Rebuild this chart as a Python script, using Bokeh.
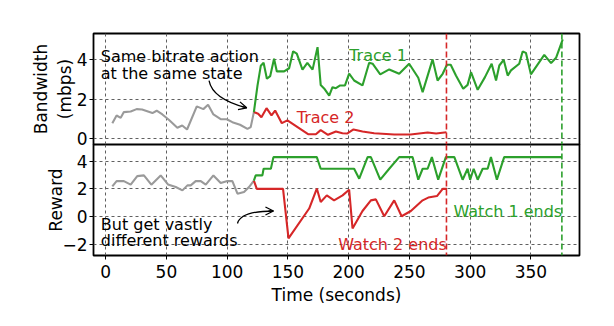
from bokeh.plotting import figure
from bokeh.layouts import column
from bokeh.models import Span, Arrow, OpenHead, FixedTicker
from bokeh.core.properties import value
from bokeh.embed import file_html
from bokeh.resources import INLINE

# ---------------- data ----------------
# shared history (grey) – bandwidth
grey_bw_t = [5.5, 9, 12.4, 15, 20.6, 25.5, 30, 38.5, 42, 46.7, 52, 59, 63, 67, 75, 80.4, 84.3, 88.7, 94.7, 99.7, 104.3, 110.6, 116.7, 119.4, 122]
grey_bw_v = [0.79, 1.18, 1.06, 1.35, 1.38, 1.5, 1.48, 1.3, 1.42, 1.23, 0.96, 0.56, 0.67, 0.47, 1.64, 1.5, 1.72, 1.23, 0.99, 0.99, 0.84, 0.71, 0.5, 0.59, 1.35]

trace1_bw_t = [122, 125, 127.7, 130, 132.7, 135.4, 138.6, 140.9, 146.9, 151, 154.3, 157.3, 162, 166, 170.3, 174.4, 177, 179.8, 184, 186.7, 189.5, 193, 197, 200.4, 204.5, 211.4, 216.9, 219.7, 226, 233.4, 241.6, 249.8, 257.3, 260.9, 269.1, 273.2, 277.4, 280.9, 284, 288.3, 294.3, 297.9, 300.7, 306.2, 312.2, 317.7, 321.3, 324, 327.6, 330.9, 333.6, 340.4, 343.2, 345.9, 350, 361, 366.6, 370.7, 376.2]
trace1_bw_v = [1.35, 2.7, 3.7, 3.85, 3.04, 3.17, 4.05, 3.41, 3.41, 3.57, 4.43, 4.31, 3.5, 3.84, 3.5, 4.64, 2.72, 2.55, 2.19, 2.61, 2.56, 2.7, 2.7, 3.3, 2.95, 2.7, 3.85, 3.8, 3.26, 3.51, 3.29, 3.8, 3.09, 2.36, 4.02, 2.95, 3.29, 3.75, 3.75, 3.2, 2.53, 2.73, 3.37, 2.48, 3.12, 3.8, 2.95, 3.71, 4.0, 3.2, 3.46, 3.8, 4.42, 4.35, 3.26, 4.25, 3.83, 4.1, 5.03]

trace2_bw_t = [122, 125.5, 128.2, 132.4, 136.5, 139.5, 145, 149.6, 166.6, 173, 177, 183, 189.5, 194.9, 199, 204, 211.4, 221, 237.5, 251, 265, 272, 280.5]
trace2_bw_v = [1.35, 1.27, 1.09, 1.55, 1.18, 1.43, 0.79, 0.93, 0.23, 0.23, 0.44, 0.2, 0.37, 0.28, 0.27, 0.47, 0.37, 0.28, 0.22, 0.22, 0.32, 0.27, 0.33]

# rewards
grey_rw_t = [5.5, 9, 15, 20.6, 26, 31.5, 37.6, 45.3, 51.3, 57.7, 63.2, 67.3, 70, 74.1, 78.3, 82.4, 88.7, 94.7, 100.2, 104.3, 108.5, 113.9, 118, 122]
grey_rw_v = [2.18, 2.56, 2.56, 2.3, 2.92, 2.97, 2.3, 2.97, 2.32, 2.13, 1.89, 2.25, 2.25, 2.56, 2.56, 2.3, 2.97, 2.42, 2.56, 2.56, 1.65, 1.77, 2.13, 2.6]

watch1_rw_t = [122, 123.5, 129, 130, 136, 138.1, 173.8, 177, 204.5, 208.7, 215.6, 218.3, 226, 233.4, 241.6, 252.6, 257.3, 260.9, 265, 268.5, 273.7, 280, 287, 293.8, 297.9, 300, 302.9, 306.2, 310.3, 314.4, 317.1, 322, 328, 375.6]
watch1_rw_v = [2.6, 2.97, 2.97, 3.45, 3.45, 4.29, 4.29, 3.45, 3.45, 2.73, 4.29, 4.29, 2.66, 3.45, 4.29, 4.29, 2.66, 3.45, 3.45, 4.29, 2.66, 4.29, 4.29, 2.66, 3.45, 2.66, 3.45, 2.66, 3.45, 3.45, 4.29, 2.66, 4.29, 4.29]

watch2_rw_t = [122, 124.4, 146, 150.5, 167.5, 173.8, 177, 182, 188, 195, 200.4, 203.2, 211.4, 218.3, 222.4, 229.3, 237.5, 243.6, 251.2, 260.9, 265.5, 272.7, 277.4, 281]
watch2_rw_v = [2.6, 2.0, 2.0, -1.58, 0.58, 2.02, 1.05, 1.53, 1.17, 1.53, 1.94, -0.86, 0.4, 1.17, 1.24, 0.02, 1.17, 0.02, 0.4, 1.17, 1.37, 1.48, 2.0, 2.0]

watch2_end = 280.5
watch1_end = 375.5

x_ticks = [0, 50, 100, 150, 200, 250, 300, 350]
bw_ticks = [0, 2, 4]
rw_ticks = [-2, 0, 2, 4]

# ---------------- styles ----------------
GREEN = "#2ca02c"
RED = "#d62728"
GREY = "#9a9a9a"
FONT = "DejaVu Sans"
LW = 2.1
TICK_FS = "17px"
ANN_FS = "16px"

LEFT = 93
RIGHT = 25
W = LEFT + 486 + RIGHT
OVER = 10


def style(p, yticks, label_standoff):
    p.outline_line_color = "black"
    p.outline_line_width = 1.8
    p.xgrid.ticker = FixedTicker(ticks=x_ticks)
    p.ygrid.ticker = FixedTicker(ticks=yticks)
    for g in (p.xgrid, p.ygrid):
        g.grid_line_color = "#606060"
        g.grid_line_dash = "3 3"
        g.grid_line_width = 1
    p.yaxis.ticker = FixedTicker(ticks=yticks)
    p.yaxis.major_label_overrides = {t: (("\u2212" + str(-t)) if t < 0 else str(t)) for t in yticks}
    p.yaxis.minor_tick_line_color = None
    p.yaxis.axis_line_color = None
    p.yaxis.major_tick_out = 4
    p.yaxis.major_tick_in = 0
    p.yaxis.major_tick_line_color = "black"
    p.yaxis.major_label_text_font = FONT
    p.yaxis.major_label_text_font_size = TICK_FS
    p.yaxis.major_label_text_color = "black"
    p.yaxis.major_label_standoff = 2
    p.yaxis.axis_label_text_font = FONT
    p.yaxis.axis_label_text_font_size = TICK_FS
    p.yaxis.axis_label_text_font_style = "normal"
    p.yaxis.axis_label_text_color = "black"
    p.yaxis.axis_label_standoff = label_standoff
    p.background_fill_color = "white"


top = figure(width=W, height=33 + 111 + OVER, x_range=(-10, 390), y_range=(-0.29, 5.33),
             output_backend="svg", toolbar_location=None,
             min_border_left=LEFT, min_border_right=RIGHT,
             min_border_top=33, min_border_bottom=OVER)
style(top, bw_ticks, -1)
top.border_fill_color = "white"
top.xaxis.visible = False
top.yaxis.axis_label = "Bandwidth\n(mbps)"

bot = figure(width=W, height=111 + 66, x_range=top.x_range, y_range=(-2.81, 5.2),
             output_backend="svg", toolbar_location=None,
             min_border_left=LEFT, min_border_right=RIGHT,
             min_border_top=0, min_border_bottom=66,
             margin=(-OVER, 0, 0, 0))
style(bot, rw_ticks, -7)
bot.border_fill_color = None
bot.yaxis.axis_label = "Reward"
bot.xaxis.ticker = FixedTicker(ticks=x_ticks)
bot.xaxis.minor_tick_line_color = None
bot.xaxis.axis_line_color = None
bot.xaxis.major_tick_out = 4
bot.xaxis.major_tick_in = 0
bot.xaxis.major_label_text_font = FONT
bot.xaxis.major_label_text_font_size = TICK_FS
bot.xaxis.major_label_text_color = "black"
bot.xaxis.major_label_standoff = 5
bot.xaxis.axis_label = "Time (seconds)"
bot.xaxis.axis_label_text_font = FONT
bot.xaxis.axis_label_text_font_size = TICK_FS
bot.xaxis.axis_label_text_font_style = "normal"
bot.xaxis.axis_label_text_color = "black"
bot.xaxis.axis_label_standoff = 4

# lines – top
top.line(grey_bw_t, grey_bw_v, line_color=GREY, line_width=LW)
top.line(trace2_bw_t, trace2_bw_v, line_color=RED, line_width=LW)
top.line(trace1_bw_t, trace1_bw_v, line_color=GREEN, line_width=LW)
# lines – bottom
bot.line(grey_rw_t, grey_rw_v, line_color=GREY, line_width=LW)
bot.line(watch2_rw_t, watch2_rw_v, line_color=RED, line_width=LW)
bot.line(watch1_rw_t, watch1_rw_v, line_color=GREEN, line_width=LW)

for p in (top, bot):
    p.add_layout(Span(location=watch2_end, dimension="height", line_color=RED,
                      line_dash="6 3", line_width=1.6))
    p.add_layout(Span(location=watch1_end, dimension="height", line_color=GREEN,
                      line_dash="6 3", line_width=1.6))


def txt(p, x, y, s, color, size=ANN_FS):
    p.text(x=[x], y=[y], text=[s], text_color=color, text_font=value(FONT),
           text_font_size=size, text_align="left", text_baseline="alphabetic")


txt(top, -4, 4.18, "Same bitrate action", "black")
txt(top, -4, 3.32, "at the same state", "black")
txt(top, 200.4, 4.22, "Trace 1", GREEN)
txt(top, 157.3, 1.06, "Trace 2", RED)
txt(bot, -4, -0.58, "But get vastly", "black")
txt(bot, -4, -1.75, "different rewards", "black")
txt(bot, 286.3, 0.4, "Watch 1 ends", GREEN)
txt(bot, 191.4, -2.0, "Watch 2 ends", RED)

# curved arrows: (start, control, end)
arrow_top = dict(x0=85.1, y0=2.95, cx=87.9, cy=2.02, x1=116.1, y1=1.57)
arrow_bot = dict(x0=108.5, y0=-0.5, cx=111.2, cy=0.4, x1=138.1, y1=0.4)

for p, a in ((top, arrow_top), (bot, arrow_bot)):
    p.quadratic(x0=[a["x0"]], y0=[a["y0"]], x1=[a["x1"]], y1=[a["y1"]],
                cx=[a["cx"]], cy=[a["cy"]], line_color="black", line_width=1.3)
    xs = a["x1"] + 0.15 * (a["cx"] - a["x1"])
    ys = a["y1"] + 0.15 * (a["cy"] - a["y1"])
    p.add_layout(Arrow(end=OpenHead(size=8, line_width=1.3, line_color="black"),
                       x_start=xs, y_start=ys, x_end=a["x1"], y_end=a["y1"],
                       line_color="black", line_width=1.3))

layout = column(top, bot, spacing=0)
open("out.html", "w").write(file_html(layout, INLINE))
